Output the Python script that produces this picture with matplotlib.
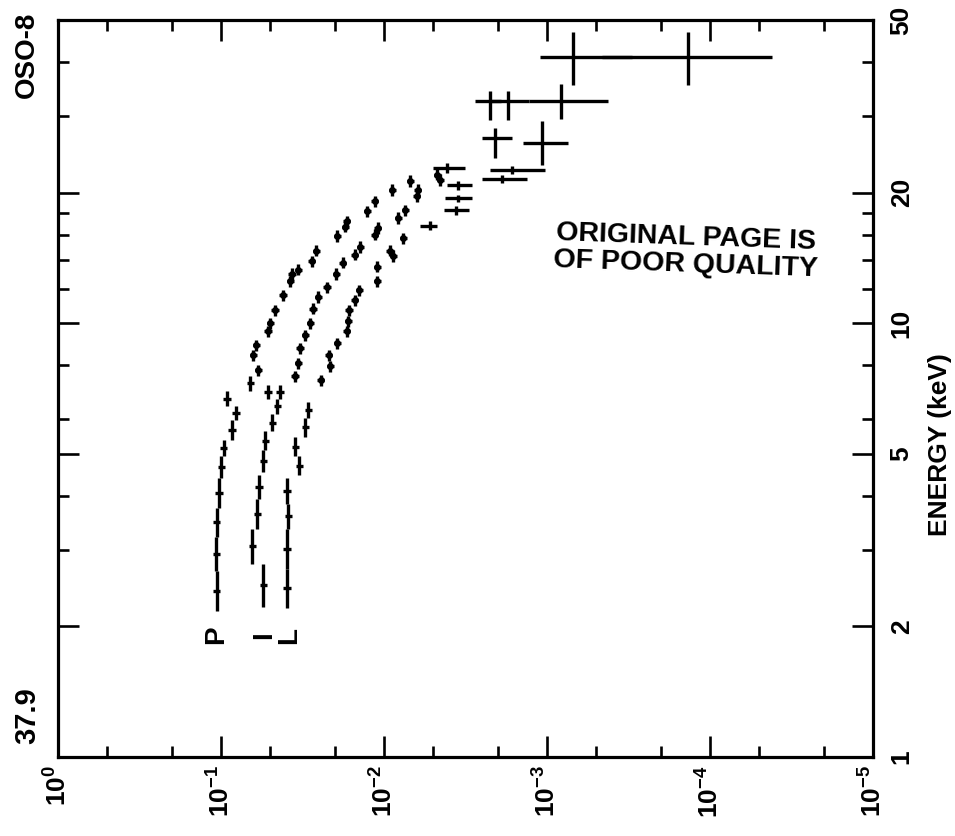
import numpy as np
import matplotlib.pyplot as plt
from matplotlib.ticker import FixedLocator, NullFormatter

plt.rcParams['font.family'] = ['Liberation Sans', 'DejaVu Sans']
plt.rcParams['font.weight'] = 'bold'
plt.rcParams['mathtext.fontset'] = 'custom'
plt.rcParams['mathtext.rm'] = 'Liberation Sans:bold'
plt.rcParams['mathtext.bf'] = 'Liberation Sans:bold'
plt.rcParams['mathtext.it'] = 'Liberation Sans:bold'

# --- data: energy in keV, flux on the log axis ---
# P : contiguous low energy bins (edges), then single points
p_bin_lo = [2.17, 2.69, 3.22, 3.76, 4.39, 4.93, 5.37, 5.97, 6.45, 6.97]
p_bin_hi = [2.69, 3.22, 3.76, 4.39, 4.93, 5.37, 5.97, 6.45, 6.97, 7.57]
p_bin_flux = [0.106, 0.107, 0.106, 0.103, 0.100, 0.096, 0.0857, 0.081, 0.092, 0.0664]
p_energy = [7.79, 8.44, 8.89, 9.59, 10.0, 10.7, 11.6, 12.5, 13.0, 13.3,
            13.9, 14.7, 15.9, 16.7, 17.2, 18.1, 19.1, 20.3, 21.3, 22.0]
p_flux = [0.0593, 0.0636, 0.061, 0.0515, 0.050, 0.0467, 0.0417, 0.0377, 0.0367, 0.0337,
          0.0277, 0.0261, 0.0194, 0.0173, 0.0169, 0.0127, 0.0114, 0.0089, 0.0069, 0.0047]

# I
i_bin_lo = [2.22, 2.79, 3.36, 3.94, 4.55, 5.09, 5.63, 6.19, 6.70, 6.70]
i_bin_hi = [2.79, 3.36, 3.94, 4.46, 5.09, 5.63, 6.19, 6.70, 7.20, 7.20]
i_bin_flux = [0.0552, 0.0645, 0.0601, 0.0585, 0.0552, 0.0537, 0.0486, 0.0453, 0.0435, 0.0515]
i_energy = [7.55, 8.08, 8.75, 9.38, 10.0, 10.8, 11.5, 12.1, 13.0, 13.8,
            14.4, 15.0, 16.0, 16.6, 17.5, 18.2, 19.6, 20.3, 21.4]
i_flux = [0.0352, 0.0337, 0.0328, 0.0305, 0.0284, 0.0273, 0.0254, 0.0224, 0.0197, 0.0179,
          0.0151, 0.0140, 0.0114, 0.0109, 0.0082, 0.0074, 0.0063, 0.0062, 0.0045]

# L
l_bin_lo = [2.20, 2.72, 3.36, 3.84, 4.47, 4.93, 5.48, 6.04]
l_bin_hi = [2.72, 3.36, 3.84, 4.39, 4.93, 5.48, 6.04, 6.60]
l_bin_flux = [0.0394, 0.0394, 0.0388, 0.0394, 0.0332, 0.0351, 0.0305, 0.0292]
l_energy = [7.39, 7.96, 8.44, 8.99, 9.59, 10.1, 10.7, 11.3, 11.9, 12.5,
            13.5, 14.3, 14.7, 15.7]
l_flux = [0.0244, 0.0214, 0.0218, 0.0194, 0.0169, 0.0166, 0.0164, 0.0151, 0.0142, 0.0110,
          0.0110, 0.0088, 0.0092, 0.0076]

# points with visible flux error bars (high energy end)
wide_energy = [22.8, 20.8, 19.4, 18.2, 16.8, 21.5, 22.6, 26.1, 26.7, 32.6, 32.6, 32.6, 41.1, 41.1]
wide_e_lo = [22.2, 20.3, 19.0, 17.8, 16.4, 21.0, 22.1, 23.2, 24.0, 29.4, 29.4, 29.6, 35.4, 35.4]
wide_e_hi = [23.4, 21.3, 19.8, 18.6, 17.2, 22.0, 23.1, 29.3, 28.2, 34.3, 34.3, 35.6, 47.0, 47.0]
wide_flux = [0.0041, 0.0035, 0.0035, 0.0036, 0.0052, 0.00189, 0.00164, 0.00107, 0.00209,
             0.00224, 0.00173, 0.00082, 0.00069, 0.000136]
wide_f_hi = [0.0050, 0.0041, 0.0042, 0.0043, 0.0060, 0.00249, 0.00224, 0.00141, 0.00250,
             0.00275, 0.00224, 0.00129, 0.00110, 0.00046]
wide_f_lo = [0.0032, 0.0029, 0.0029, 0.0030, 0.0047, 0.00133, 0.00103, 0.00074, 0.00164,
             0.00192, 0.00129, 0.00042, 0.00030, 0.0000417]

series_names = ['P', 'I', 'L']
label_flux = [0.107, 0.054, 0.038]
label_energy = 1.91

x_major = [1, 1e-1, 1e-2, 1e-3, 1e-4, 1e-5]
x_labels = [r'$10^{0}$', r'$10^{-1}$', r'$10^{-2}$', r'$10^{-3}$', r'$10^{-4}$', r'$10^{-5}$']
x_minor = [0.5, 0.2, 0.05, 0.02, 5e-3, 2e-3, 5e-4, 2e-4, 5e-5, 2e-5]
y_major = [1, 2, 5, 10, 20, 50]
y_labels = ['1', '2', '5', '10', '20', '50']
y_minor = [3, 4, 6, 8, 12, 14, 16, 18, 30, 40]

E_FRAC = 0.03   # half height of the small crosses
F_FRAC = 0.05   # half width of the small crosses

fig = plt.figure(figsize=(9.55, 8.36), dpi=100)
ax = fig.add_axes([0.0607, 0.0945, 0.8534, 0.8815])
ax.set_xscale('log')
ax.set_yscale('log')

kw = dict(fmt='none', ecolor='black', elinewidth=2.4, capsize=0)


def draw_bins(lo, hi, flux):
    lo = np.array(lo)
    hi = np.array(hi)
    flux = np.array(flux)
    e = np.sqrt(lo * hi)
    ax.errorbar(flux, e, yerr=[e - lo, hi - e], xerr=[flux * F_FRAC, flux * F_FRAC], **kw)


def draw_dots(energy, flux):
    energy = np.array(energy)
    flux = np.array(flux)
    ax.errorbar(flux, energy, yerr=[energy * E_FRAC, energy * E_FRAC],
                xerr=[flux * F_FRAC, flux * F_FRAC], **kw)
    ax.plot(flux, energy, 'o', color='black', ms=4)


draw_bins(p_bin_lo, p_bin_hi, p_bin_flux)
draw_dots(p_energy, p_flux)
draw_bins(i_bin_lo, i_bin_hi, i_bin_flux)
draw_dots(i_energy, i_flux)
draw_bins(l_bin_lo, l_bin_hi, l_bin_flux)
draw_dots(l_energy, l_flux)

we = np.array(wide_energy)
wf = np.array(wide_flux)
ax.errorbar(wf, we, yerr=[we - np.array(wide_e_lo), np.array(wide_e_hi) - we],
            xerr=[wf - np.array(wide_f_lo), np.array(wide_f_hi) - wf], **kw)

for name, fx in zip(series_names, label_flux):
    ax.text(fx, label_energy, name, rotation=90, ha='center', va='center',
            fontsize=20, fontweight='bold')

ax.set_xlim(1, 1e-5)
ax.set_ylim(1, 50)

ax.set_xticks(x_major)
ax.set_xticklabels(x_labels)
ax.xaxis.set_minor_locator(FixedLocator(x_minor))
ax.xaxis.set_minor_formatter(NullFormatter())
ax.set_yticks(y_major)
ax.set_yticklabels(y_labels)
ax.yaxis.set_minor_locator(FixedLocator(y_minor))
ax.yaxis.set_minor_formatter(NullFormatter())

ax.tick_params(which='both', direction='in', top=True, right=True, width=1.9,
               labelleft=False, labelright=True)
ax.tick_params(which='major', length=15)
ax.tick_params(which='minor', length=8)
ax.tick_params(axis='x', labelrotation=90, labelsize=19, pad=6)
ax.tick_params(axis='y', labelrotation=90, labelsize=19, pad=12)
for lab in ax.get_yticklabels():
    lab.set_va('center')
for s in ax.spines.values():
    s.set_linewidth(2.3)

fig.text(940 / 955, 1 - 445 / 836, 'ENERGY (keV)', rotation=90, ha='center', va='center',
         fontsize=19, fontweight='bold')
fig.text(27 / 955, 1 - 55 / 836, 'OSO-8', rotation=90, ha='center', va='center',
         fontsize=20, fontweight='bold')
fig.text(27 / 955, 1 - 716 / 836, '37.9', rotation=90, ha='center', va='center',
         fontsize=21, fontweight='bold')
fig.text(686 / 955, 1 - 251 / 836, 'ORIGINAL PAGE IS\nOF POOR QUALITY', rotation=-2,
         ha='center', va='center', fontsize=20.5, fontweight='heavy', linespacing=1.05)

fig.savefig('out.png', dpi=100)
